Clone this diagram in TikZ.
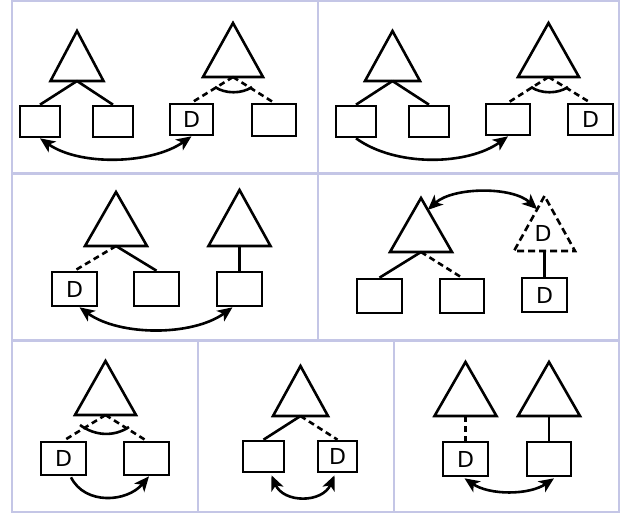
\documentclass[tikz,border=0pt]{standalone}
\usepackage{fontspec}
\setmainfont{DejaVu Sans}
\usetikzlibrary{arrows.meta,calc}
\definecolor{gridc}{RGB}{196,198,230}
\tikzset{
  box/.style={draw, line width=2.6pt, minimum width=43pt, minimum height=32pt, inner sep=0pt, font=\fontsize{22}{24}\selectfont},
  tri/.style={draw, line width=2.6pt, line join=miter},
  dtri/.style={draw, line width=2.6pt, dash pattern=on 7pt off 4pt},
  link/.style={line width=2.6pt},
  dlink/.style={line width=2.6pt, dash pattern=on 6pt off 4pt},
  swap/.style={line width=2.6pt, {Stealth[length=15pt,width=13pt,inset=4pt]}-{Stealth[length=15pt,width=13pt,inset=4pt]}},
  move/.style={line width=2.6pt, -{Stealth[length=15pt,width=13pt,inset=4pt]}},
  anglemark/.style={line width=2.6pt},
  gridline/.style={draw=gridc, line width=2.2pt},
  lbl/.style={font=\fontsize{22}{24}\selectfont, inner sep=0pt},
}
\newcommand\mytri[6]{%
  \coordinate (#1top) at (#2,#3);
  \coordinate (#1l) at ({#2-#5},#4);
  \coordinate (#1r) at ({#2+#5},#4);
  \coordinate (#1) at (#2,#4);
  \draw[#6] (#1top) -- (#1l) -- (#1r) -- cycle;
}
\begin{document}
\begin{tikzpicture}[x=1pt,y=-1pt]
\useasboundingbox (0,0) rectangle (624,517);
% grid
\draw[gridline] (12,1) rectangle (619,512);
\draw[gridline] (12,173.5) -- (619,173.5);
\draw[gridline] (12,340.5) -- (619,340.5);
\draw[gridline] (318,1) -- (318,340.5);
\draw[gridline] (198,340.5) -- (198,512);
\draw[gridline] (394,340.5) -- (394,512);

% ---------- panel 1 ----------
\mytri{p1t1}{77}{31}{81}{26.5}{tri}
\mytri{p1t2}{233}{23}{77}{30}{tri}
\node[box, minimum width=40pt, minimum height=31pt] (p1a) at (40,121.5) {};
\node[box, minimum width=40pt, minimum height=31pt] (p1b) at (113,121.5) {};
\node[box, minimum height=31pt] (p1c) at (191.5,119.5) {D};
\node[box, minimum width=44pt] (p1e) at (274,120) {};
\draw[link] (p1t1) -- (p1a.north);
\draw[link] (p1t1) -- (p1b.north);
\draw[dlink] (p1t2) -- (p1c.north);
\draw[dlink] (p1t2) -- (p1e.north);
\coordinate (p1m1) at (215,87);
\coordinate (p1m2) at (252,87);
\draw[anglemark] (p1m1) .. controls +(10,7) and +(-10,7) .. (p1m2);
\draw[swap] (p1a.south) .. controls +(40,28) and +(-40,28) .. (p1c.south);

% ---------- panel 2 ----------
\mytri{p2t1}{392.5}{31}{81}{27.5}{tri}
\mytri{p2t2}{548.5}{23}{77}{30.5}{tri}
\node[box, minimum width=40pt, minimum height=31pt] (p2a) at (356,121.5) {};
\node[box, minimum width=40pt, minimum height=31pt] (p2b) at (429,121.5) {};
\node[box, minimum width=44pt, minimum height=31pt] (p2c) at (508,119.5) {};
\node[box, minimum width=45pt, minimum height=31pt] (p2d) at (590.5,119.5) {D};
\draw[link] (p2t1) -- (p2a.north);
\draw[link] (p2t1) -- (p2b.north);
\draw[dlink] (p2t2) -- (p2c.north);
\draw[dlink] (p2t2) -- (p2d.north);
\coordinate (p2m1) at (531,87);
\coordinate (p2m2) at (568,87);
\draw[anglemark] (p2m1) .. controls +(10,7) and +(-10,7) .. (p2m2);
\draw[move] (p2a.south) .. controls +(40,29) and +(-40,29) .. (p2c.south);

% ---------- panel 3 ----------
\mytri{p3t1}{116}{192}{246}{31}{tri}
\mytri{p3t2}{239.5}{190}{246}{31}{tri}
\node[box, minimum width=45pt, minimum height=34pt] (p3d) at (74.5,289) {D};
\node[box, minimum width=45pt, minimum height=34pt] (p3b) at (156.5,289) {};
\node[box, minimum width=45pt, minimum height=34pt] (p3c) at (239.5,289) {};
\draw[dlink] (p3t1) -- (p3d.north);
\draw[link] (p3t1) -- (p3b.north);
\draw[link] (p3t2) -- (p3c.north);
\draw[swap] ($(p3d.south)+(5,0)$) .. controls +(40,29) and +(-40,29) .. ($(p3c.south)+(-7,0)$);

% ---------- panel 4 ----------
\mytri{p4t1}{421}{198}{252}{31}{tri}
\mytri{p4t2}{544.5}{196}{251}{30.5}{dtri}
\node[lbl] (p4lab) at (543,233) {D};
\node[box, minimum width=45pt, minimum height=34pt] (p4a) at (379.5,296) {};
\node[box, minimum width=44pt, minimum height=34pt] (p4b) at (462,296) {};
\node[box, minimum width=45pt, minimum height=34pt] (p4d) at (544.5,295) {D};
\draw[link] (p4t1) -- (p4a.north);
\draw[dlink] (p4t1) -- (p4b.north);
\draw[link] (p4t2) -- (p4d.north);
\coordinate (p4s) at ($(p4t1top)!0.22!(p4t1r)$);
\coordinate (p4e) at ($(p4t2top)!0.24!(p4t2l)$);
\draw[swap] (p4s) .. controls +(25,-23) and +(-25,-23) .. (p4e);

% ---------- panel 5 ----------
\mytri{p5t}{105.5}{361}{415}{30.5}{tri}
\node[box, minimum width=45pt, minimum height=33pt] (p5d) at (63.5,458.5) {D};
\node[box, minimum width=45pt, minimum height=33pt] (p5b) at (146.5,458.5) {};
\draw[dlink] (p5t) -- (p5d.north);
\draw[dlink] (p5t) -- (p5b.north);
\coordinate (p5m1) at (80,425);
\coordinate (p5m2) at (129,427);
\draw[anglemark] (p5m1) .. controls +(15,11) and +(-15,10) .. (p5m2);
\draw[move] ($(p5d.south)+(7.5,1)$) .. controls +(14,28) and +(-22,26) .. ($(p5b.south)+(2.5,0)$);

% ---------- panel 6 ----------
\mytri{p6t}{300.5}{366}{416}{27.5}{tri}
\node[box, minimum width=41pt, minimum height=31pt] (p6a) at (263.5,456.5) {};
\node[box, minimum width=39pt, minimum height=31pt] (p6d) at (337.5,456.5) {D};
\draw[link] (p6t) -- (p6a.north);
\draw[dlink] (p6t) -- (p6d.north);
\draw[swap] ($(p6a.south)+(8,2)$) .. controls +(12,28) and +(-12,28) .. ($(p6d.south)+(-3,2)$);

% ---------- panel 7 ----------
\mytri{p7t1}{465.5}{362}{416}{31}{tri}
\mytri{p7t2}{549}{362}{416}{31}{tri}
\node[box, minimum width=45pt, minimum height=34pt] (p7d) at (465.5,459) {D};
\node[box, minimum width=44pt, minimum height=34pt] (p7b) at (549,459) {};
\draw[dlink] (p7t1) -- (p7d.north);
\draw[link] (p7t2) -- (p7b.north);
\draw[swap] ($(p7d.south)+(-1,1)$) .. controls +(25,17) and +(-25,17) .. ($(p7b.south)+(5,1)$);
\end{tikzpicture}
\end{document}
